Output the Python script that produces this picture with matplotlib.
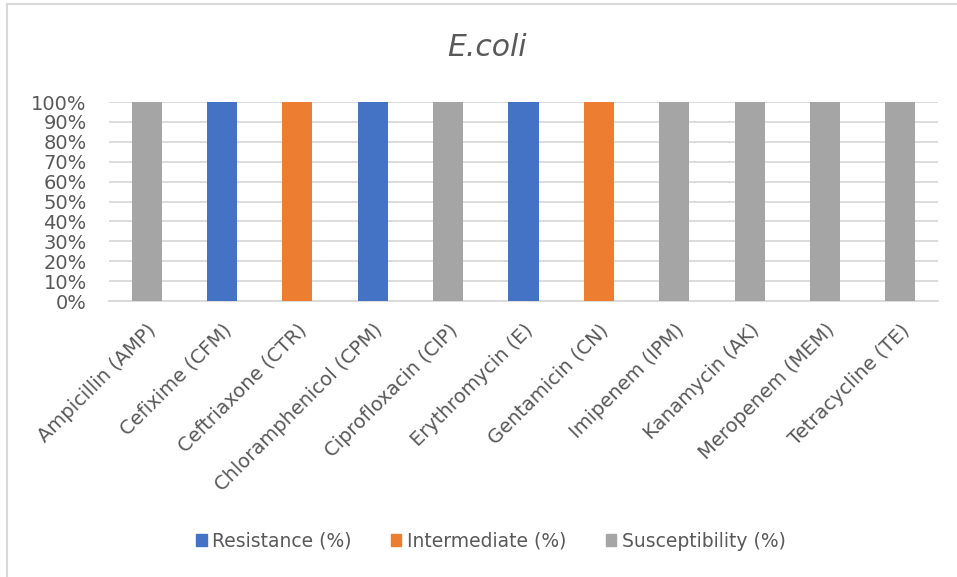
import matplotlib.pyplot as plt
from matplotlib.lines import Line2D
from matplotlib.ticker import PercentFormatter
import numpy as np

# 抗生物質ごとの感受性データ (%)
antibiotics = ['Ampicillin (AMP)', 'Cefixime (CFM)', 'Ceftriaxone (CTR)',
               'Chloramphenicol (CPM)', 'Ciprofloxacin (CIP)', 'Erythromycin (E)',
               'Gentamicin (CN)', 'Imipenem (IPM)', 'Kanamycin (AK)',
               'Meropenem (MEM)', 'Tetracycline (TE)']
resistance = [0, 100, 0, 100, 0, 100, 0, 0, 0, 0, 0]
intermediate = [0, 0, 100, 0, 0, 0, 100, 0, 0, 0, 0]
susceptibility = [100, 0, 0, 0, 100, 0, 0, 100, 100, 100, 100]
series_names = ['Resistance (%)', 'Intermediate (%)', 'Susceptibility (%)']
colors = ['#4472C4', '#ED7D31', '#A5A5A5']

plt.rcParams['font.family'] = ['DejaVu Sans']
text_color = '#595959'

fig = plt.figure(figsize=(9.57, 5.77), dpi=100)
ax = fig.add_axes([0.1139, 0.4783, 0.8663, 0.3449])

# 100%積み上げ棒グラフ
x = np.arange(len(antibiotics))
bottom = np.zeros(len(antibiotics))
for name, vals, c in zip(series_names, [resistance, intermediate, susceptibility], colors):
    ax.bar(x, vals, width=0.4, bottom=bottom, color=c, label=name, zorder=3)
    bottom += np.array(vals)

ax.set_xlim(-0.5, len(antibiotics) - 0.5)
ax.set_ylim(0, 100)
ax.set_yticks(range(0, 101, 10))
ax.yaxis.set_major_formatter(PercentFormatter(decimals=0))
ax.yaxis.grid(True, color='#D9D9D9', linewidth=1.3, zorder=0)
ax.set_axisbelow(True)

for s in ['top', 'right', 'left']:
    ax.spines[s].set_visible(False)
ax.spines['bottom'].set_color('#D9D9D9')
ax.spines['bottom'].set_linewidth(1.3)
ax.tick_params(length=0)
ax.tick_params(axis='y', labelsize=14, labelcolor=text_color, pad=16)
ax.set_xticks(x)
ax.set_xticklabels(antibiotics, rotation=45, ha='right', rotation_mode='anchor',
                   fontsize=14, color=text_color)
ax.tick_params(axis='x', pad=14)

fig.text(0.509, 0.917, 'E.coli', ha='center', va='center', fontsize=21.5,
         style='italic', color=text_color)

# 凡例
handles = [plt.Rectangle((0, 0), 1, 1, color=c) for c in colors]
fig.legend(handles, series_names, loc='center', bbox_to_anchor=(0.513, 0.062),
           ncol=3, frameon=False, fontsize=13.5, labelcolor=text_color,
           handlelength=0.55, handleheight=0.6, handletextpad=0.3, columnspacing=2.1)

# グラフ枠 (左・上のみ)
fig.add_artist(Line2D([0.0068, 0.0068], [0, 0.993], color='#D9D9D9', linewidth=1.5,
                      transform=fig.transFigure))
fig.add_artist(Line2D([0.0068, 1], [0.993, 0.993], color='#D9D9D9', linewidth=1.5,
                      transform=fig.transFigure))

fig.savefig('out.png', dpi=100)
